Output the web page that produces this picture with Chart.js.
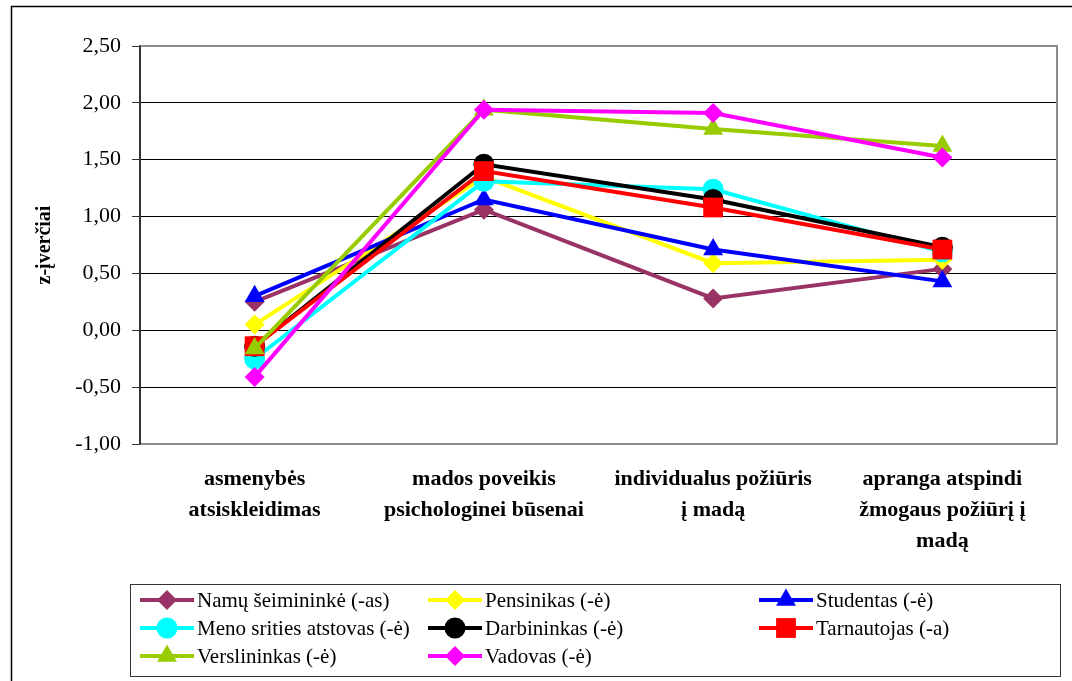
<!DOCTYPE html>
<html>
<head>
<meta charset="utf-8">
<script src="https://cdn.jsdelivr.net/npm/chart.js@4/dist/chart.umd.min.js"></script>
<style>
  html, body { margin: 0; padding: 0; background: #fff; }
  #wrap { width: 1072px; height: 681px; position: relative; }
</style>
</head>
<body>
<div id="wrap"><canvas id="chart" width="1072" height="681"></canvas></div>
<script>
var categories = [
    ["asmenybės", "atsiskleidimas"],
    ["mados poveikis", "psichologinei būsenai"],
    ["individualus požiūris", "į madą"],
    ["apranga atspindi", "žmogaus požiūrį į", "madą"]
];

var yTicks = [-1.0, -0.5, 0.0, 0.5, 1.0, 1.5, 2.0, 2.5];

var names = [
    "Namų šeimininkė (-as)", "Pensinikas (-ė)", "Studentas (-ė)",
    "Meno srities atstovas (-ė)", "Darbininkas (-ė)", "Tarnautojas (-a)",
    "Verslininkas (-ė)", "Vadovas (-ė)"
];

var namuSeimininke = [0.25, 1.06, 0.28, 0.54];
var pensinikas     = [0.05, 1.35, 0.59, 0.62];
var studentas      = [0.30, 1.15, 0.71, 0.43];
var menoAtstovas   = [-0.25, 1.31, 1.24, 0.69];
var darbininkas    = [-0.14, 1.46, 1.15, 0.73];
var tarnautojas    = [-0.14, 1.40, 1.08, 0.71];
var verslininkas   = [-0.16, 1.94, 1.77, 1.62];
var vadovas        = [-0.41, 1.94, 1.91, 1.52];

var colors  = ["#993366", "#ffff00", "#0000ff", "#00ffff", "#000000", "#ff0000", "#99cc00", "#ff00ff"];
var shapes  = ["rectRot", "rectRot", "triangle", "circle", "circle", "rect", "triangle", "rectRot"];
var radii   = [10, 10, 11.5, 10.5, 10.5, 14, 11.5, 10];

var series = [namuSeimininke, pensinikas, studentas, menoAtstovas,
              darbininkas, tarnautojas, verslininkas, vadovas];

var datasets = series.map(function (vals, i) {
    return {
        label: names[i],
        data: vals,
        borderColor: colors[i],
        backgroundColor: colors[i],
        borderWidth: 4,
        pointStyle: shapes[i],
        pointRadius: radii[i],
        pointBorderWidth: 0,
        pointBackgroundColor: colors[i],
        tension: 0,
        order: series.length - i   // later series on top
    };
});

var serif = "'Liberation Serif', 'Times New Roman', serif";

// gray frame around the plot + outer border + legend box
var framePlugin = {
    id: "frame",
    beforeDraw: function (chart) {
        var ctx = chart.ctx;
        ctx.save();
        ctx.fillStyle = "#fff";
        ctx.fillRect(0, 0, chart.width, chart.height);
        ctx.strokeStyle = "#000";
        ctx.lineWidth = 1.5;
        ctx.strokeRect(11.5, 6.5, chart.width + 20, chart.height + 20);
        ctx.restore();
    },
    afterDatasetsDraw: function (chart) {
        var a = chart.chartArea, ctx = chart.ctx;
        ctx.save();
        ctx.strokeStyle = "#8c8c8c";
        ctx.lineWidth = 2;
        ctx.beginPath();
        ctx.moveTo(a.left, a.top);
        ctx.lineTo(a.right, a.top);
        ctx.lineTo(a.right, a.bottom);
        ctx.lineTo(a.left, a.bottom);
        ctx.stroke();
        ctx.strokeStyle = "#333";
        ctx.beginPath();
        ctx.moveTo(a.left, a.top);
        ctx.lineTo(a.left, a.bottom);
        ctx.stroke();
        ctx.restore();
    },
    afterDraw: function (chart) {
        var ctx = chart.ctx;
        ctx.save();
        ctx.strokeStyle = "#333";
        ctx.lineWidth = 1;
        ctx.strokeRect(130.5, 584.5, 930, 92);

        var colX = [140, 428, 759];
        var rowY = [600, 628, 656];
        ctx.font = "21px " + serif;
        ctx.textBaseline = "middle";
        ctx.fillStyle = "#000";
        for (var i = 0; i < names.length; i++) {
            var x = colX[i % 3], y = rowY[Math.floor(i / 3)];
            ctx.strokeStyle = colors[i];
            ctx.lineWidth = 4;
            ctx.beginPath();
            ctx.moveTo(x, y);
            ctx.lineTo(x + 54, y);
            ctx.stroke();
            ctx.fillStyle = colors[i];
            Chart.helpers.drawPoint(ctx, {
                pointStyle: shapes[i], radius: radii[i], rotation: 0, borderWidth: 0
            }, x + 27, y);
            ctx.fillStyle = "#000";
            ctx.fillText(names[i], x + 57, y + 1);
        }
        ctx.restore();
    }
};

new Chart(document.getElementById("chart"), {
    type: "line",
    data: { labels: categories, datasets: datasets },
    options: {
        responsive: false,
        animation: false,
        layout: { padding: { top: 46, right: 15, left: 0, bottom: 0 } },
        plugins: {
            legend: { display: false },
            tooltip: { enabled: false }
        },
        scales: {
            x: {
                offset: true,
                grid: { display: false, drawTicks: false },
                border: { display: false },
                ticks: {
                    color: "#000",
                    font: { family: serif, size: 22, weight: "bold", lineHeight: 1.4 },
                    padding: 20,
                    maxRotation: 0,
                    autoSkip: false
                },
                afterFit: function (scale) { scale.height = 237; }
            },
            y: {
                min: -1,
                max: 2.5,
                afterBuildTicks: function (scale) {
                    scale.ticks = yTicks.map(function (v) { return { value: v }; });
                },
                grid: {
                    color: function (ctx) {
                        var v = ctx.tick ? ctx.tick.value : 0;
                        return (v === 2.5 || v === -1) ? "#8c8c8c" : "#000";
                    },
                    lineWidth: 1,
                    tickLength: 8,
                    tickColor: "#333"
                },
                border: { display: true, color: "#333", width: 2 },
                ticks: {
                    color: "#000",
                    font: { family: serif, size: 22 },
                    padding: 11,
                    callback: function (v) { return v.toFixed(2).replace(".", ","); }
                },
                title: {
                    display: true,
                    text: "z-įverčiai",
                    color: "#000",
                    font: { family: serif, size: 20, weight: "bold" },
                    padding: { top: 33, bottom: 0 }
                },
                afterFit: function (scale) { scale.width = 140; }
            }
        }
    },
    plugins: [framePlugin]
});
</script>
</body>
</html>
